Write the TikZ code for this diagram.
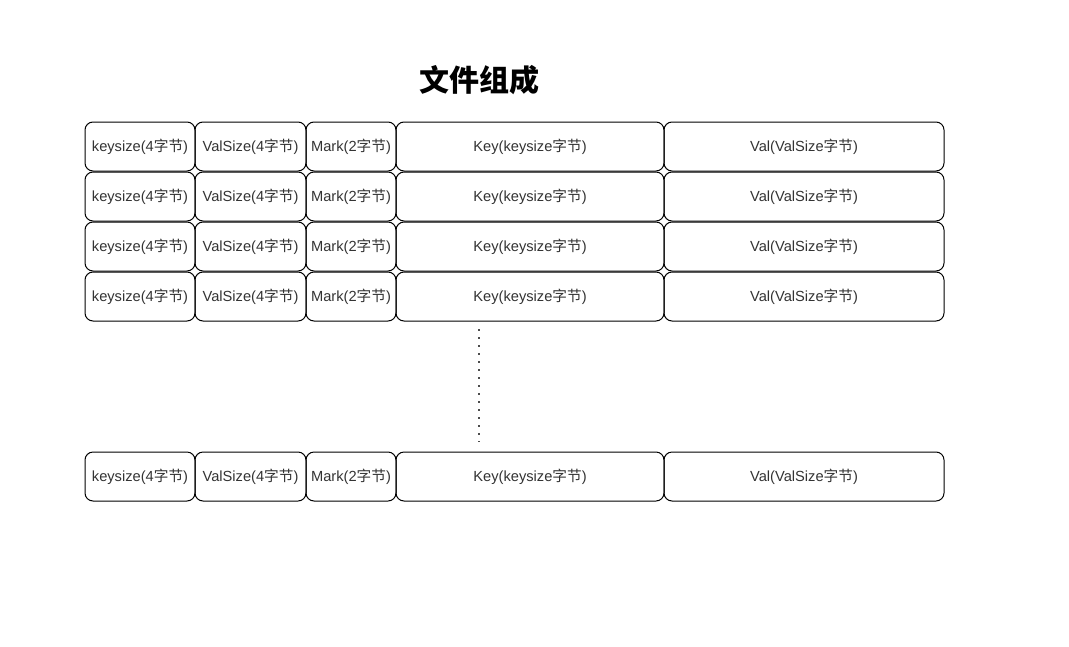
\documentclass[tikz,border=0pt]{standalone}
\usepackage{fontspec}
\setmainfont{Liberation Sans}
\newfontfamily\cjk{Noto Sans CJK SC}
\usetikzlibrary{positioning}

\newcommand\zj{{\cjk 字节}}

\begin{document}
\begin{tikzpicture}[
  x=0.75pt,y=-0.75pt,
  cell/.style={draw,line width=0.75pt,rounded corners=6pt,outer sep=0pt,
    inner sep=0pt,minimum height=36.75pt,text=black!80,
    font=\fontsize{11}{13}\selectfont},
  dots/.style={draw=black!70,line width=1.6pt,dash pattern=on 1.6pt off 4.4pt}
]
  \useasboundingbox (0,0) rectangle (1069,646);
  \node[font=\cjk\bfseries\fontsize{22.5}{26}\selectfont] (title) at (479,80) {文件组成};

  % one record per row
  \foreach \r/\y in {1/146.5,2/196.5,3/246.5,4/296.5,5/476.5}{
    \node[cell,minimum width=82.5pt] (k\r) at (140,\y) {keysize(4\zj)};
    \node[cell,minimum width=83.25pt,right=0pt of k\r] (v\r) {ValSize(4\zj)};
    \node[cell,minimum width=67.5pt,right=0pt of v\r] (m\r) {Mark(2\zj)};
    \node[cell,minimum width=201pt,right=0pt of m\r] (key\r) {Key(keysize\zj)};
    \node[cell,minimum width=210pt,right=0pt of key\r] (val\r) {Val(ValSize\zj)};
  }

  \coordinate (dtop) at (479,329);
  \coordinate (dbot) at (479,442);
  \draw[dots] (dtop) -- (dbot);
\end{tikzpicture}
\end{document}
